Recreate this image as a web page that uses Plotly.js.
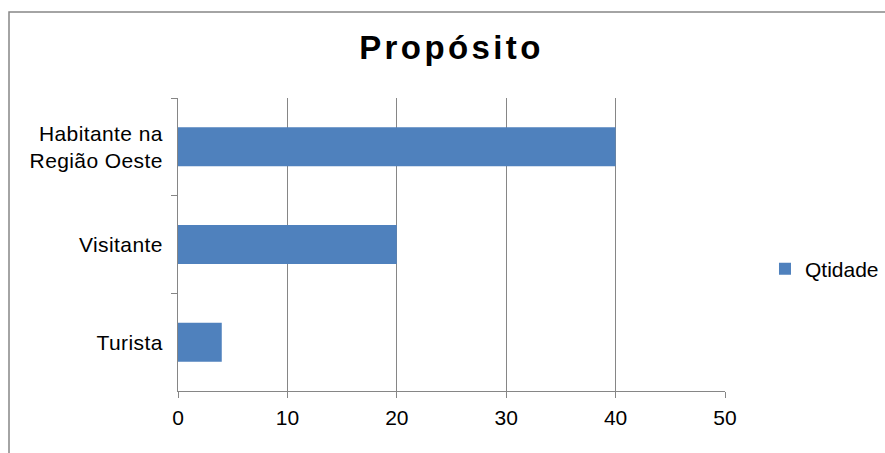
<!DOCTYPE html>
<html>
<head>
<meta charset="utf-8">
<script src="https://cdn.plot.ly/plotly-3.0.1.min.js"></script>
<style>
  html, body { margin: 0; padding: 0; background: #ffffff; }
  #chart { width: 885px; height: 453px; }
  /* widely spaced lettering in the chart title */
  .gtitle { letter-spacing: 3.4px; }
  .ytick text { letter-spacing: 0.4px; }
</style>
</head>
<body>
<div id="chart"></div>
<script>
// Purpose of the trip, counts per group
const categories = ['Habitante na<br>Região Oeste', 'Visitante', 'Turista'];
const quantities = [40, 20, 4];
const seriesName = 'Qtidade';
const xTicks = [0, 10, 20, 30, 40, 50];

const FONT = '"Liberation Sans", Arial, sans-serif';
const GRID = '#868686';

const trace = {
  type: 'bar',
  orientation: 'h',
  y: categories,
  x: quantities,
  name: seriesName,
  marker: { color: '#4F81BD', line: { width: 0 } },
  showlegend: true,
  hoverinfo: 'x+y'
};

const layout = {
  width: 885,
  height: 453,
  margin: { l: 178, r: 160, t: 98, b: 62, autoexpand: false },
  paper_bgcolor: '#ffffff',
  plot_bgcolor: '#ffffff',
  font: { family: FONT, size: 21, color: '#000000' },
  title: {
    text: '<b>Propósito</b>',
    font: { family: FONT, size: 33, color: '#000000' },
    xref: 'paper', x: 0.5, xanchor: 'center',
    yref: 'container', y: 1 - 47 / 453, yanchor: 'middle'
  },
  bargap: 0.6,
  xaxis: {
    range: [0, 50],
    tickvals: xTicks,
    ticktext: xTicks.map(String),
    showgrid: true,
    gridcolor: GRID,
    gridwidth: 1,
    zeroline: false,
    showline: true,
    linecolor: GRID,
    linewidth: 1,
    ticks: 'outside',
    ticklen: 6,
    tickcolor: GRID,
    ticklabelstandoff: 2,
    tickfont: { family: FONT, size: 21, color: '#000000' },
    fixedrange: true
  },
  yaxis: {
    type: 'category',
    autorange: 'reversed',
    showgrid: false,
    zeroline: false,
    showline: true,
    linecolor: GRID,
    linewidth: 1,
    ticks: 'outside',
    tickson: 'boundaries',
    ticklen: 6,
    tickcolor: GRID,
    ticklabelstandoff: 10,
    tickfont: { family: FONT, size: 21, color: '#000000' },
    fixedrange: true
  },
  legend: {
    x: 1.0731, xanchor: 'left',
    y: 0.416, yanchor: 'middle',
    bgcolor: 'rgba(0,0,0,0)',
    borderwidth: 0,
    font: { family: FONT, size: 21, color: '#000000' }
  },
  shapes: [
    // outer chart frame (runs off the right and bottom edges)
    {
      type: 'rect', xref: 'paper', yref: 'paper',
      x0: (9 - 178) / 547, x1: 1.8,
      y0: -1, y1: (391 - 12) / 293,
      line: { color: '#878787', width: 1.5 },
      fillcolor: 'rgba(0,0,0,0)',
      layer: 'below'
    }
  ]
};

Plotly.newPlot('chart', [trace], layout, { displayModeBar: false, staticPlot: true });
</script>
</body>
</html>
